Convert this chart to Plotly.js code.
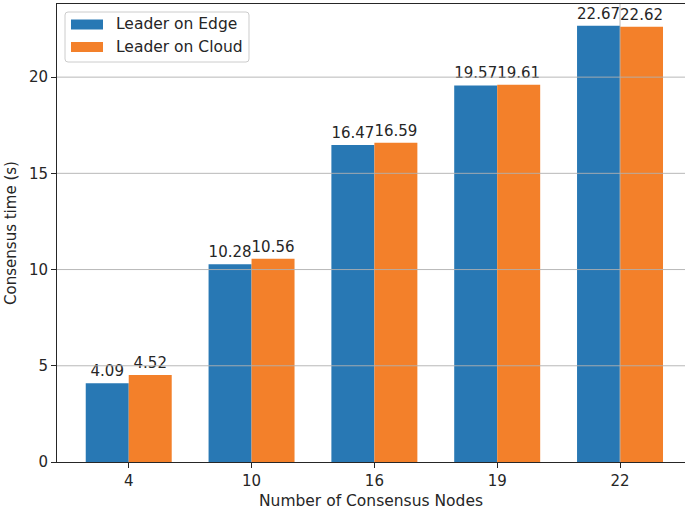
<!DOCTYPE html>
<html>
<head>
<meta charset="utf-8">
<script src="https://cdn.plot.ly/plotly-3.0.1.min.js"></script>
<style>
  html, body { margin: 0; padding: 0; background: #fff; }
  #chart { width: 685px; height: 513px; }
</style>
</head>
<body>
<div id="chart"></div>
<script>
// Consensus time by number of consensus nodes, leader placement compared
const nodeCounts = ['4', '10', '16', '19', '22'];
const leaderOnEdge = [4.09, 10.28, 16.47, 19.57, 22.67];
const leaderOnCloud = [4.52, 10.56, 16.59, 19.61, 22.62];
const seriesNames = ['Leader on Edge', 'Leader on Cloud'];
const seriesColors = ['#2878b4', '#f3802a'];
const yTicks = [0, 5, 10, 15, 20];

const FONT = 'DejaVu Sans, sans-serif';
const INK = '#262626';
const GRID = '#b0b0b0';

// plot box in pixels, used to place the hand-drawn legend in paper units
const W = 685, H = 513;
const M = { l: 57, r: 0, t: 4, b: 51 };
const plotW = W - M.l - M.r, plotH = H - M.t - M.b;
const px = x => (x - M.l) / plotW;
const py = y => (H - M.b - y) / plotH;

function barTrace(name, values, color) {
  return {
    type: 'bar',
    name: name,
    x: nodeCounts,
    y: values,
    marker: { color: color, line: { width: 0 } },
    text: values.map(v => v.toFixed(2)),
    textposition: 'outside',
    constraintext: 'none',
    cliponaxis: false,
    textfont: { family: FONT, size: 15, color: INK },
    hoverinfo: 'x+y',
    showlegend: false
  };
}

const traces = [
  barTrace(seriesNames[0], leaderOnEdge, seriesColors[0]),
  barTrace(seriesNames[1], leaderOnCloud, seriesColors[1])
];

// grid drawn over the bars
const shapes = [];
nodeCounts.forEach(c => shapes.push({
  type: 'line', layer: 'above', xref: 'x', yref: 'paper',
  x0: c, x1: c, y0: 0, y1: 1,
  line: { color: GRID, width: 0.9 }
}));
yTicks.filter(t => t > 0).forEach(t => shapes.push({
  type: 'line', layer: 'above', xref: 'paper', yref: 'y',
  x0: 0, x1: 1, y0: t, y1: t,
  line: { color: GRID, width: 0.9 }
}));

// legend frame with rounded corners
function roundedBox(x0, y0, x1, y1, r) {
  const X = v => px(v).toFixed(5), Y = v => py(v).toFixed(5);
  return `M${X(x0 + r)},${Y(y0)} L${X(x1 - r)},${Y(y0)} Q${X(x1)},${Y(y0)} ${X(x1)},${Y(y0 + r)} ` +
         `L${X(x1)},${Y(y1 - r)} Q${X(x1)},${Y(y1)} ${X(x1 - r)},${Y(y1)} ` +
         `L${X(x0 + r)},${Y(y1)} Q${X(x0)},${Y(y1)} ${X(x0)},${Y(y1 - r)} ` +
         `L${X(x0)},${Y(y0 + r)} Q${X(x0)},${Y(y0)} ${X(x0 + r)},${Y(y0)} Z`;
}
shapes.push({
  type: 'path', layer: 'above', xref: 'paper', yref: 'paper',
  path: roundedBox(65, 12, 249, 62, 3),
  fillcolor: 'rgba(255,255,255,0.9)',
  line: { color: '#cccccc', width: 1 }
});

const annotations = [];
const rowCenters = [24.5, 47];
seriesNames.forEach((name, i) => {
  const cy = rowCenters[i];
  shapes.push({
    type: 'rect', layer: 'above', xref: 'paper', yref: 'paper',
    x0: px(71), x1: px(103), y0: py(cy - 5), y1: py(cy + 5),
    fillcolor: seriesColors[i], line: { width: 0 }
  });
  annotations.push({
    xref: 'paper', yref: 'paper', x: px(114), y: py(cy),
    xanchor: 'left', yanchor: 'middle', showarrow: false,
    text: name, font: { family: FONT, size: 15.5, color: INK }
  });
});

const layout = {
  width: W,
  height: H,
  margin: M,
  paper_bgcolor: '#ffffff',
  plot_bgcolor: '#ffffff',
  font: { family: FONT, size: 15, color: INK },
  barmode: 'group',
  bargap: 0.3,
  bargroupgap: 0,
  showlegend: false,
  xaxis: {
    type: 'category',
    range: [-0.584, 4.529],
    showgrid: false,
    zeroline: false,
    showline: true,
    mirror: true,
    linecolor: INK,
    linewidth: 1,
    ticks: 'outside',
    ticklen: 5,
    tickwidth: 1,
    tickcolor: INK,
    tickfont: { family: FONT, size: 15, color: INK },
    title: { text: 'Number of Consensus Nodes', font: { family: FONT, size: 15.5, color: INK }, standoff: 6 }
  },
  yaxis: {
    range: [0, 23.8],
    tickvals: yTicks,
    ticktext: yTicks.map(String),
    showgrid: false,
    zeroline: false,
    showline: true,
    mirror: false,
    linecolor: INK,
    linewidth: 1,
    ticks: 'outside',
    ticklen: 5,
    tickwidth: 1,
    tickcolor: INK,
    tickfont: { family: FONT, size: 15, color: INK },
    title: { text: 'Consensus time (s)', font: { family: FONT, size: 15, color: INK }, standoff: 8 }
  },
  shapes: shapes,
  annotations: annotations
};

Plotly.newPlot('chart', traces, layout, { displayModeBar: false, staticPlot: true });
</script>
</body>
</html>
